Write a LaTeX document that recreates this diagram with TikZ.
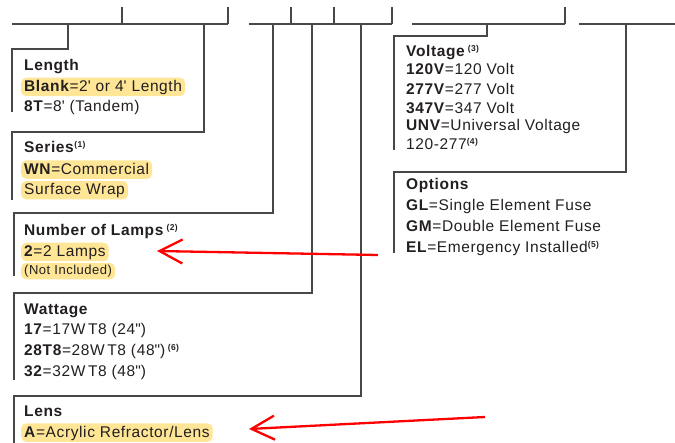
\documentclass[tikz,border=0pt]{standalone}
\usepackage{fontspec}
\setmainfont{Liberation Sans}[LetterSpace=4]
\usetikzlibrary{arrows.meta}
\definecolor{rulegray}{RGB}{72,72,72}
\definecolor{inkblack}{RGB}{35,31,32}
\definecolor{hlyellow}{RGB}{254,230,150}
\newcommand{\fnref}[1]{\raisebox{5pt}{\fontsize{8.5}{9}\selectfont\bfseries(#1)}}
\newcommand{\qs}{\textquotesingle}
\newcommand{\qd}{\textquotedbl}
\begin{document}
\begin{tikzpicture}[x=1pt,y=-1pt,
  rule/.style={draw=rulegray, line width=1.1pt},
  lbl/.style={anchor=base west, inner xsep=3pt, inner ysep=2pt, text=inkblack, font=\fontsize{15.5}{18}\selectfont},
  hl/.style={lbl, fill=hlyellow, rounded corners=5pt, text height=12pt, text depth=2.5pt},
  small/.style={font=\fontsize{13}{15}\selectfont, text height=10.5pt, text depth=3pt, inner ysep=1.5pt},
  pointer/.style={draw=red, line width=2.3pt, -{Straight Barb[length=23pt,width=24pt]}}]
\useasboundingbox (0,0) rectangle (675,443);
\draw[rule] (12,24) -- (228,24);
\draw[rule] (122,7) -- (122,24);
\draw[rule] (228,7) -- (228,24);
\draw[rule] (68,24) -- (68,49) -- (12,49) -- (12,112);
\draw[rule] (204,24) -- (204,132) -- (12,132) -- (12,200);
\draw[rule] (249,24) -- (392,24);
\draw[rule] (291,7) -- (291,24);
\draw[rule] (334,7) -- (334,24);
\draw[rule] (392,7) -- (392,24);
\draw[rule] (273,24) -- (273,213) -- (14,213) -- (14,276);
\draw[rule] (312,24) -- (312,293) -- (14,293) -- (14,380);
\draw[rule] (361,24) -- (361,396) -- (14,396) -- (14,443);
\draw[rule] (412,24) -- (565,24);
\draw[rule] (565,7) -- (565,24);
\draw[rule] (487,24) -- (487,36) -- (394,36) -- (394,150);
\draw[rule] (579,24) -- (675,24);
\draw[rule] (626,24) -- (626,172) -- (394,172) -- (394,253);
\node[lbl] (lenTitle) at (21,70.7) {\textbf{Length}};
\node[hl] (lenBlank) at (21,91.7) {\textbf{Blank}=2\qs{} or 4\qs{} Length};
\node[lbl] (lenTandem) at (21,111.7) {\textbf{8T}=8\qs{} (Tandem)};
\node[lbl] (serTitle) at (21,152.7) {\textbf{Series}\fnref{1}};
\node[hl] (serWN) at (21,174.3) {\textbf{WN}=Commercial};
\node[hl] (serWrap) at (21,195) {Surface Wrap};
\node[lbl] (lampTitle) at (21,235.7) {\textbf{Number of Lamps}\,\fnref{2}};
\node[hl] (lampTwo) at (21,256.7) {\textbf{2}=2 Lamps};
\node[hl, small] (lampNote) at (21,275) {(Not Included)};
\node[lbl] (wattTitle) at (21,314.3) {\textbf{Wattage}};
\node[lbl] (wattA) at (21,335) {\textbf{17}=17W\,T8 (24\qd)};
\node[lbl] (wattB) at (21,356) {\textbf{28T8}=28W\,T8 (48\qd)\,\fnref{6}};
\node[lbl] (wattC) at (21,376.7) {\textbf{32}=32W\,T8 (48\qd)};
\node[lbl] (lensTitle) at (21,416.7) {\textbf{Lens}};
\node[hl] (lensA) at (21,437.3) {\textbf{A}=Acrylic Refractor/Lens};
\node[lbl] (voltTitle) at (403,56.7) {\textbf{Voltage}\,\fnref{3}};
\node[lbl] (voltA) at (403,75) {\textbf{120V}=120 Volt};
\node[lbl] (voltB) at (403,94.3) {\textbf{277V}=277 Volt};
\node[lbl] (voltC) at (403,113.3) {\textbf{347V}=347 Volt};
\node[lbl] (voltD) at (403,131) {\textbf{UNV}=Universal Voltage};
\node[lbl] (voltE) at (403,150) {120-277\fnref{4}};
\node[lbl] (optTitle) at (403,189.3) {\textbf{Options}};
\node[lbl] (optGL) at (403,211) {\textbf{GL}=Single Element Fuse};
\node[lbl] (optGM) at (403,231.7) {\textbf{GM}=Double Element Fuse};
\node[lbl] (optEL) at (403,252.7) {\textbf{EL}=Emergency Installed\fnref{5}};
\coordinate (lampFrom) at (378,255);
\coordinate (lampTo) at (157,251);
\coordinate (lensFrom) at (485,417);
\coordinate (lensTo) at (249,429);
\draw[pointer] (lampFrom) -- (lampTo);
\draw[pointer] (lensFrom) -- (lensTo);
\end{tikzpicture}
\end{document}
